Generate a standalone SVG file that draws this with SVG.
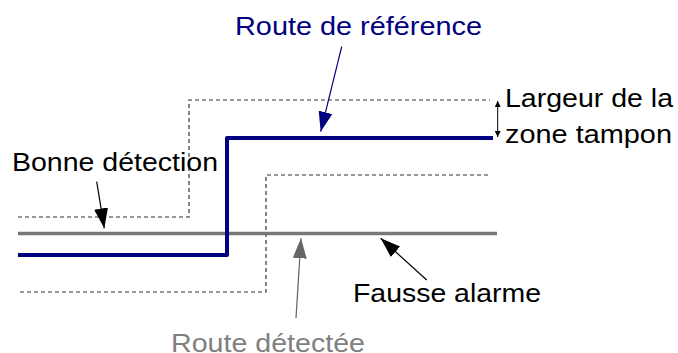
<svg xmlns="http://www.w3.org/2000/svg" width="678" height="353" viewBox="0 0 678 353">
<style>
text{font-family:"Liberation Sans",Arial,sans-serif;font-size:26.5px}
.dash{fill:none;stroke:#333;stroke-width:1.2;stroke-dasharray:4,3}
.ref{fill:none;stroke:#000080;stroke-width:4;stroke-linejoin:round}
.det{fill:none;stroke:#777;stroke-width:3.5}
</style>
<defs>
<marker id="an" viewBox="0 0 20 14" markerWidth="20" markerHeight="14" refX="20" refY="7" orient="auto" markerUnits="userSpaceOnUse"><path d="M0,0L20,7L0,14Z" fill="#000080"/></marker>
<marker id="ak" viewBox="0 0 20 14" markerWidth="20" markerHeight="14" refX="20" refY="7" orient="auto" markerUnits="userSpaceOnUse"><path d="M0,0L20,7L0,14Z" fill="#000"/></marker>
<marker id="ag" viewBox="0 0 20 14" markerWidth="20" markerHeight="14" refX="20" refY="7" orient="auto" markerUnits="userSpaceOnUse"><path d="M0,0L20,7L0,14Z" fill="#666"/></marker>
<marker id="as" viewBox="0 0 6 6" markerWidth="6" markerHeight="6" refX="6" refY="3" orient="auto" markerUnits="userSpaceOnUse"><path d="M0,0L6,3L0,6Z" fill="#000"/></marker>
</defs>
<g id="buffer-upper"><path class="dash" d="M18,217H189V100H490"/></g>
<g id="buffer-lower"><path class="dash" d="M20,292H266V175H490"/></g>
<g id="route-detectee-line"><path class="det" d="M18,233.5H497"/></g>
<g id="route-reference-line"><path class="ref" d="M18,255H227V138H493"/></g>
<g id="connectors">
<path d="M341.7,46.7L320.7,131.7" stroke="#000080" stroke-width="1.2" fill="none" marker-end="url(#an)"/>
<path d="M96.7,181.7L104.3,228.3" stroke="#000" stroke-width="1.2" fill="none" marker-end="url(#ak)"/>
<path d="M296,318L301,238.3" stroke="#666" stroke-width="1.2" fill="none" marker-end="url(#ag)"/>
<path d="M426.7,280L380.7,238.3" stroke="#000" stroke-width="1.2" fill="none" marker-end="url(#ak)"/>
<path d="M497.7,118L497.7,101" stroke="#000" stroke-width="1" fill="none" marker-end="url(#as)"/>
<path d="M497.7,118L497.7,137" stroke="#000" stroke-width="1" fill="none" marker-end="url(#as)"/>
</g>
<g id="label-reference"><text x="235" y="35" textLength="247" lengthAdjust="spacingAndGlyphs" fill="#000080">Route de référence</text></g>
<g id="label-bonne"><text x="12" y="170.7" textLength="206" lengthAdjust="spacingAndGlyphs" fill="#000">Bonne détection</text></g>
<g id="label-largeur"><text x="505" y="106.7" textLength="168" lengthAdjust="spacingAndGlyphs" fill="#000">Largeur de la</text><text x="505" y="143.3" textLength="167" lengthAdjust="spacingAndGlyphs" fill="#000">zone tampon</text></g>
<g id="label-fausse"><text x="353" y="301.7" textLength="188" lengthAdjust="spacingAndGlyphs" fill="#000">Fausse alarme</text></g>
<g id="label-detectee"><text x="171" y="351.5" textLength="194" lengthAdjust="spacingAndGlyphs" fill="#808080">Route détectée</text></g>
</svg>
